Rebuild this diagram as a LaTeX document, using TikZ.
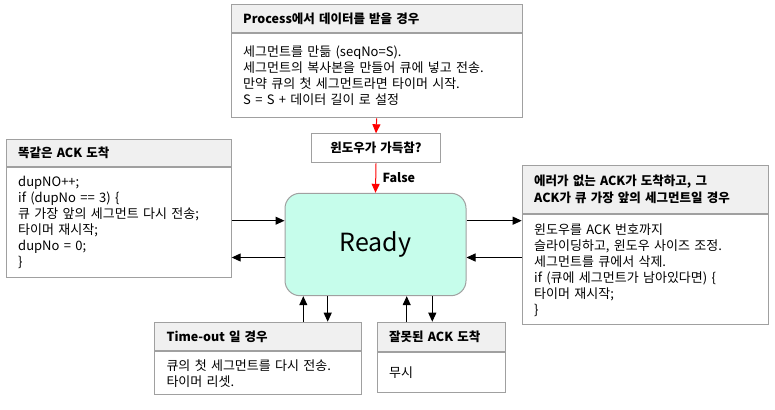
\documentclass[tikz,border=0pt]{standalone}
\usepackage{fontspec}
\setmainfont{Noto Sans CJK KR}
\usetikzlibrary{arrows.meta,positioning}
\newcommand\bodyfont{\fontsize{13}{16}\selectfont\spaceskip=5pt plus 1pt\relax}
\tikzset{
    hdr/.style={draw=boxline,fill=hdrgray,anchor=north west,inner xsep=12pt,inner ysep=0pt,align=left,line width=1pt,font=\bfseries\fontsize{12.5}{17}\selectfont},
    bdy/.style={draw=boxline,fill=white,anchor=north west,inner xsep=12pt,inner ysep=0pt,align=left,line width=1pt,font=\bodyfont},
    arr/.style={-{Triangle[length=9pt,width=8pt]},line width=1pt,black},
    redarr/.style={arr,red}
}

\begin{document}
\begin{tikzpicture}[x=1pt,y=-1pt]
                \definecolor{boxline}{HTML}{A0A0A0}
                \definecolor{hdrgray}{HTML}{F0F0F0}
                \definecolor{readyfill}{HTML}{C6FDEB}

                \useasboundingbox (0,0) rectangle (775,409);

                \node [hdr,text width=267pt,minimum height=28pt] (procH) at (230.7,4.3) {Process에서 데이터를 받을 경우};
                \node [bdy,text width=267pt,minimum height=84pt] (procB) at (procH.south west) {세그먼트를 만듦 (seqNo=S).\\
                    세그먼트의 복사본을 만들어 큐에 넣고 전송.\\
                    만약 큐의 첫 세그먼트라면 타이머 시작.\\
                    S = S + 데이터 길이 로 설정};

                \node [hdr,anchor=north,align=center,text width=104.6pt,minimum height=29pt,fill=white] (full) at (376,133.3) {윈도우가 가득참?};

                \node [draw=boxline,fill=readyfill,line width=1pt,rounded corners=15pt,minimum width=181pt,minimum height=102.4pt,font=\fontsize{25}{30}\selectfont] (ready) at (375.5,244.5) {Ready};

                \node [hdr,text width=201pt,minimum height=26.7pt] (dupH) at (5.7,139) {똑같은 ACK 도착};
                \node [bdy,text width=201pt,minimum height=110pt] (dupB) at (dupH.south west) {dupNO++;\\
                    if (dupNo == 3) \{\\
                    큐 가장 앞의 세그먼트 다시 전송;\\
                    타이머 재시작;\\
                    dupNo = 0;\\
                    \}};

                \node [hdr,text width=222.6pt,minimum height=48.3pt] (ackH) at (521.7,165) {에러가 없는 ACK가 도착하고, 그\\
                    ACK가 큐 가장 앞의 세그먼트일 경우};
                \node [bdy,text width=222.6pt,minimum height=110pt] (ackB) at (ackH.south west) {윈도우를 ACK 번호까지\\
                    슬라이딩하고, 윈도우 사이즈 조정.\\
                    세그먼트를 큐에서 삭제.\\
                    if (큐에 세그먼트가 남아있다면) \{\\
                    타이머 재시작;\\
                    \}};

                \node [hdr,text width=182.7pt,minimum height=28.3pt] (toH) at (154,321.7) {Time-out 일 경우};
                \node [bdy,text width=182.7pt,minimum height=43.3pt] (toB) at (toH.south west) {큐의 첫 세그먼트를 다시 전송.\\
                    타이머 리셋.};

                \node [hdr,text width=104.3pt,minimum height=29.3pt] (badH) at (376.7,321.7) {잘못된 ACK 도착};
                \node [bdy,text width=104.3pt,minimum height=40pt] (badB) at (badH.south west) {무시};

                \draw [redarr] (procB.south) -- (full.north);
                \draw [redarr] (full.south) -- node [right,black,font=\bfseries\fontsize{12.5}{14}\selectfont,xshift=3pt] (false) {False} (ready.north);

                \draw [arr] ([yshift=23.8pt]dupB.east |- ready.west) -- ([yshift=23.8pt]ready.west);
                \draw [arr] ([yshift=-13pt]ready.west) -- ([yshift=-13pt]dupB.east |- ready.west);
                \draw [arr] ([yshift=23.8pt]ready.east) -- ([yshift=23.8pt]ackB.west |- ready.east);
                \draw [arr] ([yshift=-13pt]ackB.west |- ready.east) -- ([yshift=-13pt]ready.east);

                \draw [arr] ([xshift=-72.2pt]toH.north -| ready.south) -- ([xshift=-72.2pt]ready.south);
                \draw [arr] ([xshift=-47.8pt]ready.south) -- ([xshift=-47.8pt]toH.north -| ready.south);
                \draw [arr] ([xshift=31.2pt]badH.north -| ready.south) -- ([xshift=31.2pt]ready.south);
                \draw [arr] ([xshift=56.8pt]ready.south) -- ([xshift=56.8pt]badH.north -| ready.south);
            \end{tikzpicture}
\end{document}
